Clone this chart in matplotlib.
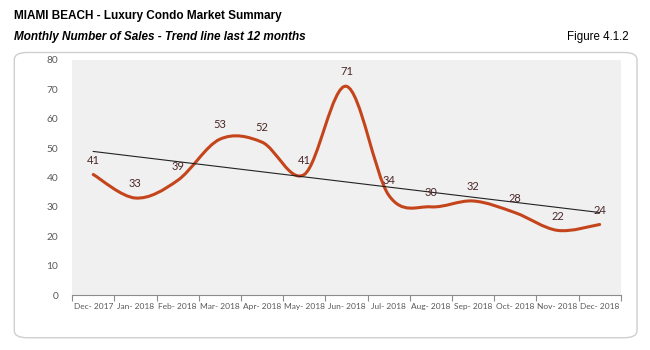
import numpy as np
import matplotlib
matplotlib.use("Agg")
import matplotlib.pyplot as plt
from matplotlib.path import Path
from matplotlib.patches import PathPatch, FancyBboxPatch

# data
months = ["Dec- 2017", "Jan- 2018", "Feb- 2018", "Mar- 2018", "Apr- 2018", "May- 2018",
          "Jun- 2018", "Jul- 2018", "Aug- 2018", "Sep- 2018", "Oct- 2018", "Nov- 2018",
          "Dec- 2018"]
sales = [41, 33, 39, 53, 52, 41, 71, 34, 30, 32, 28, 22, 24]
y_ticks = [0, 10, 20, 30, 40, 50, 60, 70, 80]

line_col = "#c4451c"
label_col = "#4a2626"
head_font = ["Liberation Sans Narrow", "Liberation Sans"]

fig = plt.figure(figsize=(6.5, 3.5), dpi=100)
fig.patch.set_facecolor("white")

# rounded frame round the chart
frame = FancyBboxPatch((0.022, 0.035), 0.958, 0.815, boxstyle="round,pad=0,rounding_size=0.02",
                       transform=fig.transFigure, facecolor="white", edgecolor="#cfcfcf",
                       linewidth=1.0, zorder=-5)
fig.patches.append(frame)

fig.text(0.022, 0.955, "MIAMI BEACH - Luxury Condo Market Summary", fontsize=8.5,
         fontweight="bold", family=head_font, va="center")
fig.text(0.022, 0.895, "Monthly Number of Sales - Trend line last 12 months", fontsize=8.5,
         fontweight="bold", style="italic", family=head_font, va="center")
fig.text(0.967, 0.895, "Figure 4.1.2", fontsize=8.3, family=head_font,
         ha="right", va="center")

ax = fig.add_axes([0.111, 0.157, 0.844, 0.672])
ax.set_zorder(2)
ax.set_facecolor("#f0f0f0")

x = np.arange(len(sales))
y = np.array(sales, dtype=float)

# smoothed line like Excel (cubic bezier segments)
verts = [(x[0], y[0])]
codes = [Path.MOVETO]
n = len(x)
for i in range(n - 1):
    p0 = np.array([x[max(i - 1, 0)], y[max(i - 1, 0)]])
    p1 = np.array([x[i], y[i]])
    p2 = np.array([x[i + 1], y[i + 1]])
    p3 = np.array([x[min(i + 2, n - 1)], y[min(i + 2, n - 1)]])
    c1 = p1 + (p2 - p0) / 6.0
    c2 = p2 - (p3 - p1) / 6.0
    verts += [tuple(c1), tuple(c2), tuple(p2)]
    codes += [Path.CURVE4] * 3
ax.add_patch(PathPatch(Path(verts, codes), facecolor="none", edgecolor=line_col,
                       linewidth=2.2, capstyle="round", zorder=3))

# linear trend line
k, b = np.polyfit(x, y, 1)
ax.plot(x, k * x + b, color="#222222", linewidth=0.8, zorder=4)

for xi, yi in zip(x, sales):
    ax.text(xi, yi + 3, str(yi), ha="center", va="bottom", fontsize=8,
            color=label_col, family="Lato", zorder=5)

ax.set_xlim(-0.5, len(sales) - 0.5)
ax.set_ylim(0, 80)
ax.set_yticks(y_ticks)
ax.set_xticks(x)
ax.set_xticklabels(months)
ax.set_xticks(np.arange(len(sales) + 1) - 0.5, minor=True)
ax.tick_params(axis="x", which="major", length=0, labelsize=6.0, labelcolor="#595959", pad=6)
ax.tick_params(axis="x", which="minor", length=4, direction="out", color="#8c8c8c", width=0.8)
ax.tick_params(axis="y", length=0, labelsize=7.3, labelcolor="#595959", pad=10)
for lab in ax.get_xticklabels() + ax.get_yticklabels():
    lab.set_family("Lato")

for s in ["top", "right", "left"]:
    ax.spines[s].set_visible(False)
ax.spines["bottom"].set_color("#8c8c8c")
ax.spines["bottom"].set_linewidth(0.8)

fig.savefig("out.png", dpi=100, facecolor="white")
